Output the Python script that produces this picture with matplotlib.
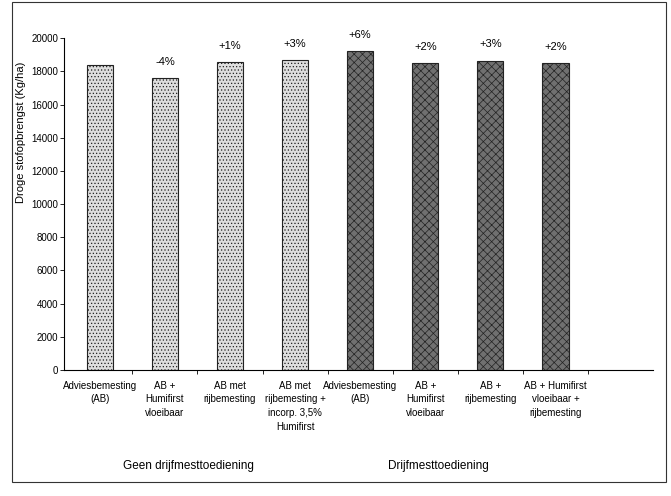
import matplotlib.pyplot as plt
from matplotlib.patches import Rectangle

plt.rcParams['font.family'] = ['Liberation Sans Narrow', 'Liberation Sans', 'DejaVu Sans']
plt.rcParams['hatch.linewidth'] = 0.5

categories = ['Adviesbemesting\n(AB)', 'AB +\nHumifirst\nvloeibaar', 'AB met\nrijbemesting',
              'AB met\nrijbemesting +\nincorp. 3,5%\nHumifirst',
              'Adviesbemesting\n(AB)', 'AB +\nHumifirst\nvloeibaar', 'AB +\nrijbemesting',
              'AB + Humifirst\nvloeibaar +\nrijbemesting']
values = [18400, 17600, 18550, 18700, 19250, 18500, 18650, 18500]
pct_labels = ['', '-4%', '+1%', '+3%', '+6%', '+2%', '+3%', '+2%']
groups = ['Geen drijfmesttoediening', 'Drijfmesttoediening']
yticks = list(range(0, 20001, 2000))

fig = plt.figure(figsize=(6.71, 4.96), dpi=100)
ax = fig.add_axes([0.0954, 0.254, 0.878, 0.669])

x = list(range(len(values)))
light = x[:4]
dark = x[4:]
ax.bar(light, values[:4], width=0.4, color='#dedede', edgecolor='#222222',
       linewidth=0.8, hatch='.....')
ax.bar(dark, values[4:], width=0.4, color='#707070', edgecolor='#222222',
       linewidth=0.8, hatch='xxxx')

for xi, v, lab in zip(x, values, pct_labels):
    if lab:
        ax.annotate(lab, (xi, v), xytext=(0, 8), textcoords='offset points',
                    ha='center', va='bottom', fontsize=8)

ax.set_xlim(-0.55, 8.5)
ax.set_ylim(0, 20000)
ax.set_yticks(yticks)
ax.set_yticklabels([str(t) for t in yticks], fontsize=7)
ax.set_xticks([i + 0.5 for i in range(8)])
ax.set_xticklabels([])
ax.tick_params(axis='x', length=3, direction='out', width=0.6)
ax.tick_params(axis='y', length=3, direction='out', width=0.6, pad=1)
ax.spines['top'].set_visible(False)
ax.spines['right'].set_visible(False)
for s in ['left', 'bottom']:
    ax.spines[s].set_linewidth(0.8)

for xi, c in zip(x, categories):
    ax.text(xi, -650, c, ha='center', va='top', fontsize=7, linespacing=1.45)

ax.text(1.36, -5800, groups[0], ha='center', va='center', fontsize=8.5)
ax.text(5.2, -5800, groups[1], ha='center', va='center', fontsize=8.5)

fig.text(0.031, 0.734, 'Droge stofopbrengst (Kg/ha)', rotation=90,
         ha='center', va='center', fontsize=8)

fig.patches.append(Rectangle((12 / 671, 14 / 496), 654 / 671, 480 / 496,
                             transform=fig.transFigure, fill=False,
                             edgecolor='#333333', linewidth=0.8))

fig.savefig('out.png', dpi=100)
